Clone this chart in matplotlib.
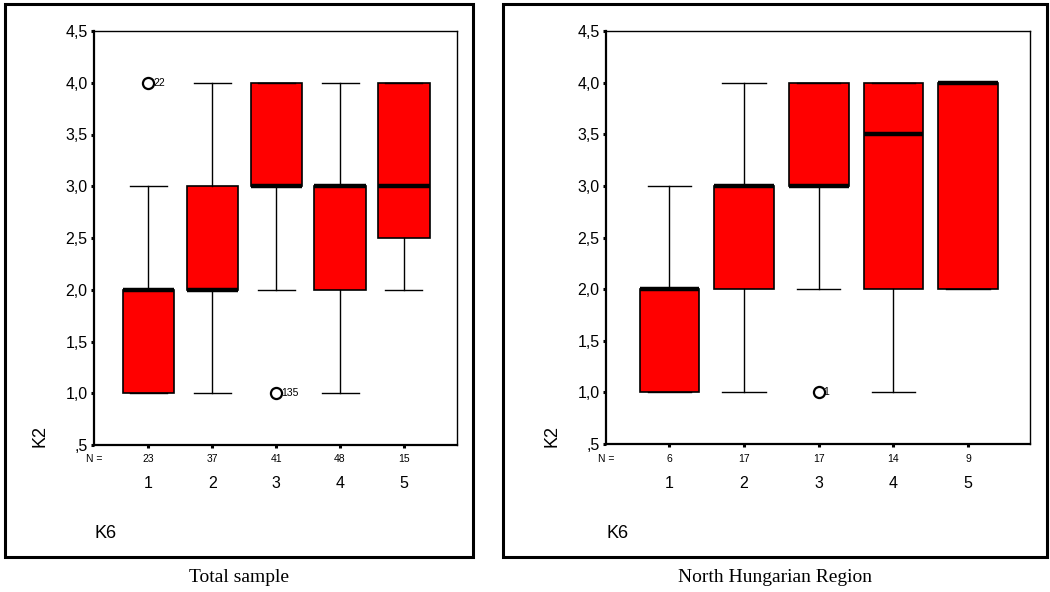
import matplotlib
matplotlib.use("Agg")
import matplotlib.pyplot as plt
from matplotlib.patches import Rectangle
from matplotlib.ticker import FuncFormatter

# Box plot summaries of K2 by K6 category
categories = [1, 2, 3, 4, 5]

total_n      = [23, 37, 41, 48, 15]
total_whislo = [1.0, 1.0, 2.0, 1.0, 2.0]
total_q1     = [1.0, 2.0, 3.0, 2.0, 2.5]
total_med    = [2.0, 2.0, 3.0, 3.0, 3.0]
total_q3     = [2.0, 3.0, 4.0, 3.0, 4.0]
total_whishi = [3.0, 4.0, 4.0, 4.0, 4.0]
total_fliers = [[4.0], [], [1.0], [], []]
total_flier_ids = [["22"], [], ["135"], [], []]

north_n      = [6, 17, 17, 14, 9]
north_whislo = [1.0, 1.0, 2.0, 1.0, 2.0]
north_q1     = [1.0, 2.0, 3.0, 2.0, 2.0]
north_med    = [2.0, 3.0, 3.0, 3.5, 4.0]
north_q3     = [2.0, 3.0, 4.0, 4.0, 4.0]
north_whishi = [3.0, 4.0, 4.0, 4.0, 4.0]
north_fliers = [[], [], [1.0], [], []]
north_flier_ids = [[], [], ["1"], [], []]

W, H = 1050, 592
SANS = "Liberation Sans"
SERIF = "Liberation Serif"

fig = plt.figure(figsize=(W / 100, H / 100), dpi=100)


def px_rect(x0, y0, x1, y1):
    return [x0 / W, 1 - y1 / H, (x1 - x0) / W, (y1 - y0) / H]


def y_fmt(v, pos):
    s = f"{v:.1f}".replace(".", ",")
    return s[1:] if s.startswith("0") else s


def panel(box_px, frame_px, caption, n, lo, q1, med, q3, hi, fliers, ids):
    # outer frame round the whole panel
    fx0, fy0, fx1, fy1 = frame_px
    fig.patches.append(Rectangle((fx0 / W, 1 - fy1 / H), (fx1 - fx0) / W, (fy1 - fy0) / H,
                                 transform=fig.transFigure, fill=False,
                                 edgecolor="black", linewidth=2.2))
    fig.text((fx0 + fx1) / 2 / W, 1 - 577 / H, caption, family=SERIF,
             fontsize=14, ha="center", va="center")

    ax = fig.add_axes(px_rect(*box_px))
    stats = []
    for i in range(len(categories)):
        stats.append(dict(med=med[i], q1=q1[i], q3=q3[i],
                          whislo=lo[i], whishi=hi[i], fliers=[]))
    ax.bxp(stats, positions=categories, widths=0.8, patch_artist=True,
           showfliers=False, capwidths=0.58,
           boxprops=dict(facecolor="#ff0000", edgecolor="black", linewidth=1.2),
           medianprops=dict(color="black", linewidth=3.2, solid_capstyle="butt"),
           whiskerprops=dict(color="black", linewidth=1.0),
           capprops=dict(color="black", linewidth=1.0))

    # outliers with case numbers
    for x, ys, labs in zip(categories, fliers, ids):
        for y, lab in zip(ys, labs):
            ax.plot(x, y, marker="o", markersize=8, markerfacecolor="white",
                    markeredgecolor="black", markeredgewidth=1.6, zorder=5)
            ax.annotate(lab, (x, y), xytext=(3.5, 0), textcoords="offset points",
                        fontsize=7.5, family=SANS, va="center", ha="left")

    ax.set_xlim(0.15, 5.83)
    ax.set_ylim(0.5, 4.5)
    ax.set_yticks([0.5, 1.0, 1.5, 2.0, 2.5, 3.0, 3.5, 4.0, 4.5])
    ax.yaxis.set_major_formatter(FuncFormatter(y_fmt))
    ax.set_xticks(categories)
    ax.set_xticklabels([])
    ax.tick_params(axis="both", direction="out", length=2.2, width=2.2, pad=2.5)
    for lab in ax.get_yticklabels():
        lab.set_family(SANS)
        lab.set_fontsize(11.5)

    for side in ("left", "bottom"):
        ax.spines[side].set_linewidth(1.6)
    for side in ("top", "right"):
        ax.spines[side].set_linewidth(1.0)

    # N counts and category labels under the axis
    tr = ax.get_xaxis_transform()
    ax_h = box_px[3] - box_px[1]
    n_y = -(459 - box_px[3]) / ax_h
    c_y = -(483 - box_px[3]) / ax_h
    for x, cnt in zip(categories, n):
        ax.text(x, n_y, str(cnt), transform=tr, ha="center", va="center",
                fontsize=7.5, family=SANS)
        ax.text(x, c_y, str(x), transform=tr, ha="center", va="center",
                fontsize=11.5, family=SANS)
    ax.text(0.0, n_y, "N =", transform=ax.transAxes, ha="center", va="center",
            fontsize=7.5, family=SANS)

    x0 = box_px[0]
    fig.text((x0 - 54) / W, 1 - 436 / H, "K2", rotation=90, family=SANS,
             fontsize=13, ha="center", va="center")
    fig.text((x0 + 1) / W, 1 - 533 / H, "K6", family=SANS,
             fontsize=13, ha="left", va="center")
    return ax


panel((94, 31, 457, 445), (5, 4, 473, 557), "Total sample",
      total_n, total_whislo, total_q1, total_med, total_q3, total_whishi,
      total_fliers, total_flier_ids)
panel((606, 31, 1030, 444), (503, 4, 1047, 557), "North Hungarian Region",
      north_n, north_whislo, north_q1, north_med, north_q3, north_whishi,
      north_fliers, north_flier_ids)

fig.savefig("out.png", dpi=100)
